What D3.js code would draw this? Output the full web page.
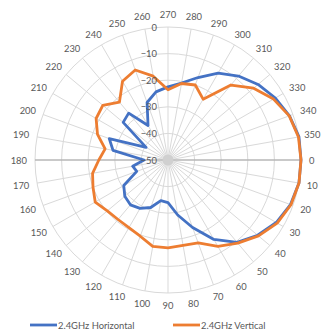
<!DOCTYPE html>
<html><head><meta charset="utf-8">
<script src="https://cdn.jsdelivr.net/npm/d3@7"></script>
<style>html,body{margin:0;padding:0;background:#fff;}svg{display:block;font-family:Lato,"Open Sans",sans-serif;}</style>
</head><body>
<script>
// categories in chart order (clockwise starting at top)
const categories = [270,280,290,300,310,320,330,340,350,0,10,20,30,40,50,60,70,80,90,100,110,120,130,140,150,160,170,180,190,200,210,220,230,240,250,260];
const horizontal = [-22.5,-20.6,-17,-12.3,-8.8,-5.8,-3.4,-1.4,0,0,0,-1,-3,-6,-9.6,-15.5,-23,-29,-34,-34.5,-31,-29,-28,-28.8,-30.8,-37.5,-36.5,-41,-29,-26.5,-40.5,-28,-27,-35,-27,-24];
const vertical = [-23.6,-20.8,-20,-23.6,-13.2,-8,-4.2,-1.5,-0.2,0,0,-0.8,-2.6,-5.6,-9.2,-12.5,-16.8,-17.4,-17,-17,-19.5,-20.6,-20.8,-20.2,-18.4,-20,-21.2,-24,-26,-21.8,-18.8,-18,-21.6,-15.8,-14,-18];
const radialTicks = [-50,-40,-30,-20,-10,0];
const seriesNames = ["2.4GHz Horizontal","2.4GHz Vertical"];
const colors = ["#4472C4","#ED7D31"];

const W=322,H=333,cx=168,cy=160,R=133;
const svg=d3.select("body").append("svg").attr("width",W).attr("height",H);
const n=categories.length;
const ang=d3.scaleLinear().domain([0,n]).range([0,2*Math.PI]);
const rad=d3.scaleLinear().domain([-50,0]).range([0,R]);
const g=svg.append("g").attr("transform",`translate(${cx},${cy})`);

// rings
g.selectAll("circle.ring").data(radialTicks.slice(1)).join("circle")
  .attr("r",d=>rad(d)).attr("fill","none").attr("stroke","#d9d9d9").attr("stroke-width",1);
// spokes
g.selectAll("line.spoke").data(categories).join("line")
  .attr("x1",0).attr("y1",0)
  .attr("x2",(d,i)=>R*Math.sin(ang(i))).attr("y2",(d,i)=>-R*Math.cos(ang(i)))
  .attr("stroke","#d9d9d9").attr("stroke-width",1);
// darker horizontal axis
g.append("line").attr("x1",-R).attr("x2",R).attr("y1",0).attr("y2",0).attr("stroke","#a6a6a6").attr("stroke-width",1.2);
g.append("circle").attr("r",5.5).attr("fill","#d0d0d0");

// series
const line=d3.lineRadial().angle((d,i)=>ang(i)).radius(d=>rad(d)).curve(d3.curveLinearClosed);
[horizontal,vertical].forEach((s,k)=>{
  g.append("path").attr("d",line(s)).attr("fill","none").attr("stroke",colors[k])
   .attr("stroke-width",2.8).attr("stroke-linejoin","round");
});

// category labels
const fs=9.4;
g.selectAll("text.cat").data(categories).join("text")
  .attr("font-size",fs).attr("fill","#595959")
  .attr("text-anchor","middle").attr("dominant-baseline","central")
  .text(d=>d)
  .each(function(d,i){
    const a=ang(i), sx=Math.sin(a), cy_=-Math.cos(a);
    const w=this.getComputedTextLength();
    const gap=8, hh=4.5;
    let x=(R+gap)*sx + (w/2)*sx;
    const y=(R+gap)*cy_ + hh*cy_;
    x=Math.min(x, W-cx-1.5-w/2);
    d3.select(this).attr("x",x).attr("y",y);
  });

// radial axis labels
const ys=d3.scaleLinear().domain([-50,0]).range([0,-R]);
const ax=g.append("g").call(d3.axisLeft(ys).tickValues(radialTicks).tickSize(0).tickPadding(11));
ax.select(".domain").remove();
ax.selectAll("text").attr("font-size",fs).attr("fill","#595959").attr("font-family","Lato,'Open Sans',sans-serif");

// legend
const leg=svg.append("g").attr("transform","translate(0,325)");
const lx=[30,173];
seriesNames.forEach((nm,k)=>{
  leg.append("line").attr("x1",lx[k]).attr("x2",lx[k]+27).attr("y1",0).attr("y2",0)
    .attr("stroke",colors[k]).attr("stroke-width",2.8);
  leg.append("text").attr("x",lx[k]+28).attr("y",0).attr("dominant-baseline","central")
    .attr("font-size",fs).attr("fill","#595959").text(nm);
});
</script>
</body></html>
